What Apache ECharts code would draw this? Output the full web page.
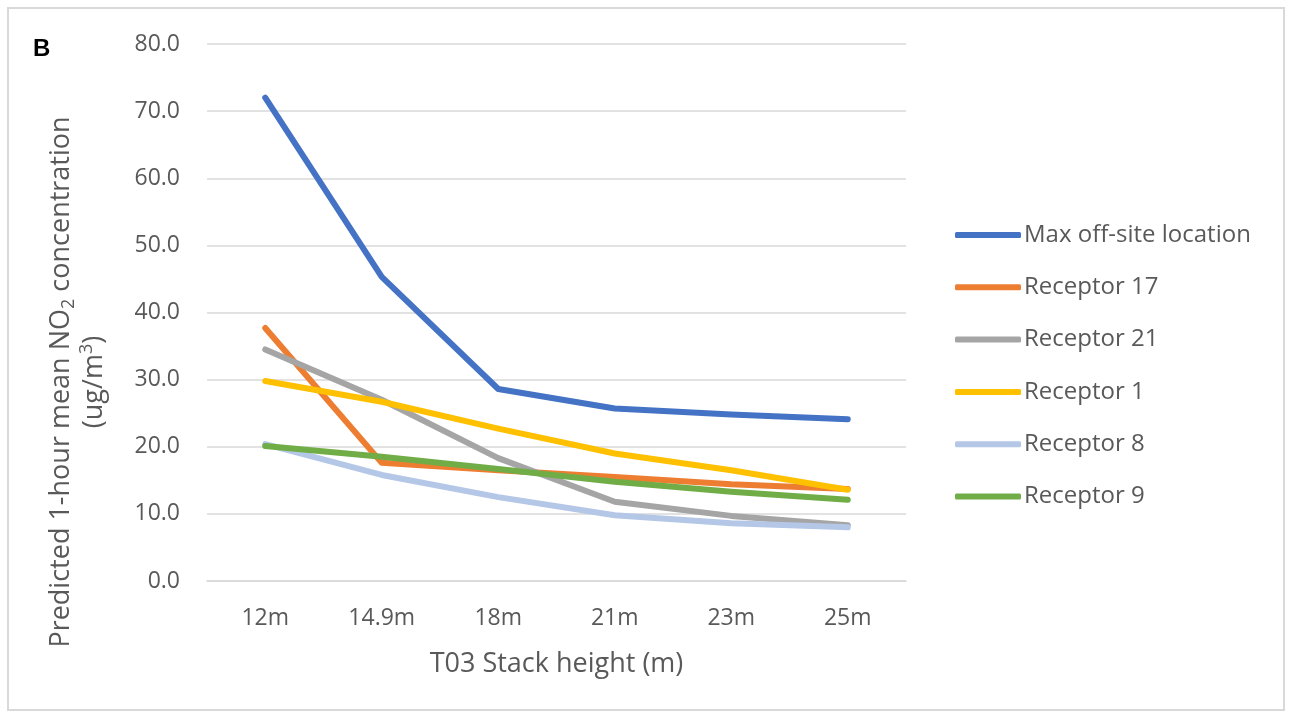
<!DOCTYPE html>
<html><head><meta charset="utf-8">
<script src="https://cdn.jsdelivr.net/npm/echarts@6/dist/echarts.min.js"></script>
<style>html,body{margin:0;padding:0;background:#fff}#c{width:1289px;height:713px}</style>
</head><body><div id="c"></div>
<script>
const categories = ['12m','14.9m','18m','21m','23m','25m'];
const seriesNames = ['Max off-site location','Receptor 17','Receptor 21','Receptor 1','Receptor 8','Receptor 9'];
const maxOffSite = [72.0, 45.3, 28.6, 25.7, 24.8, 24.1];
const receptor17 = [37.7, 17.6, 16.5, 15.5, 14.4, 13.7];
const receptor21 = [34.5, 27.0, 18.3, 11.8, 9.7, 8.3];
const receptor1  = [29.8, 26.7, 22.7, 19.0, 16.5, 13.6];
const receptor8  = [20.4, 15.8, 12.5, 9.8, 8.6, 8.0];
const receptor9  = [20.1, 18.5, 16.7, 14.8, 13.3, 12.1];
const colors = ['#4472C4','#ED7D31','#A5A5A5','#FFC000','#B4C7E7','#70AD47'];
const allData = [maxOffSite, receptor17, receptor21, receptor1, receptor8, receptor9];
const font = '"Open Sans", "Liberation Sans", sans-serif';

const chart = echarts.init(document.getElementById('c'), null, {renderer:'canvas'});
chart.setOption({
  animation:false,
  backgroundColor:'#fff',
  color: colors,
  grid:{left:207,right:383,top:44,bottom:132,containLabel:false},
  legend:{
    orient:'vertical', left:950, top:218, itemGap:28.3, padding:5,
    itemWidth:66, itemHeight:6,
    icon:'roundRect',
    textStyle:{fontFamily:font,fontSize:24,lineHeight:24,color:'#595959',padding:[0,0,0,-2]},
    data: seriesNames
  },
  xAxis:{
    type:'category', data:categories, boundaryGap:true,
    axisLine:{lineStyle:{color:'#D9D9D9',width:1.5}},
    axisTick:{show:false},
    axisLabel:{fontFamily:font,fontSize:23,color:'#595959',margin:26},
    name:'T03 Stack height (m)', nameLocation:'middle', nameGap:70,
    nameTextStyle:{fontFamily:font,fontSize:27,color:'#595959'}
  },
  yAxis:{
    type:'value', min:0, max:80, interval:10,
    axisLine:{show:false}, axisTick:{show:false},
    splitLine:{lineStyle:{color:'#D9D9D9',width:1.5}},
    axisLabel:{fontFamily:font,fontSize:23,color:'#595959',margin:27,formatter:v=>v.toFixed(1)}
  },
  graphic:[
    {type:'rect',shape:{x:8,y:8,width:1276,height:702},style:{fill:'none',stroke:'#D9D9D9',lineWidth:2},silent:true,z:-1},
    {type:'text',left:33,top:37,style:{text:'B',font:'bold 24px "Liberation Sans", Arial, sans-serif',fill:'#000'}},
    {type:'text',x:78,y:382,rotation:Math.PI/2,silent:true,
      style:{
        text:'{t|Predicted 1-hour mean NO}{sub|2}{t| concentration}\n{t|(ug/m}{sup|3}{t|)}',
        x:0,y:0,align:'center',verticalAlign:'middle',
        fill:'#595959',font:'27px '+font,lineHeight:33,
        rich:{
          t:{fontFamily:font,fontSize:27,fill:'#595959',lineHeight:33},
          sub:{fontFamily:font,fontSize:18,fill:'#595959',verticalAlign:'bottom',lineHeight:20},
          sup:{fontFamily:font,fontSize:18,fill:'#595959',verticalAlign:'top',lineHeight:20}
        }
      }
    }
  ],
  series: seriesNames.map((n,i)=>({
    name:n, type:'line', data:allData[i], symbol:'none',
    lineStyle:{width:6,color:colors[i],cap:'round',join:'round'},
    itemStyle:{color:colors[i]}, z:2+i
  }))
});
</script></body></html>
